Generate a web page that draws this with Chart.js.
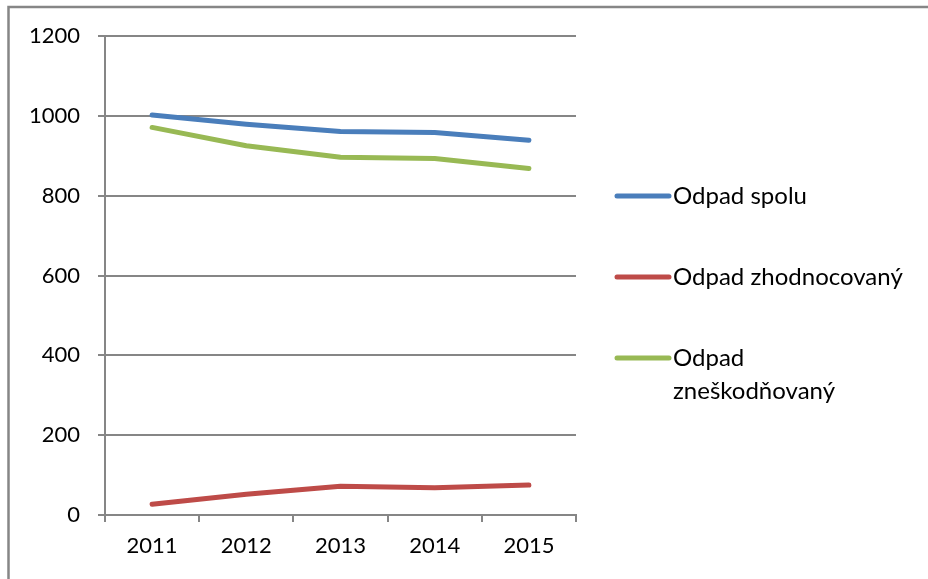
<!DOCTYPE html>
<html>
<head>
<meta charset="utf-8">
<script src="https://cdn.jsdelivr.net/npm/chart.js@4"></script>
<style>
html,body{margin:0;padding:0;background:#fff;}
#wrap{width:928px;height:579px;position:relative;}
</style>
</head>
<body>
<div id="wrap"><canvas id="c" width="928" height="579"></canvas></div>
<script>
const years = ['2011', '2012', '2013', '2014', '2015'];
const spolu = [1002, 979, 961, 958, 939];
const zhodnocovany = [27, 52, 72, 68, 75];
const zneskodnovany = [971, 925, 896, 893, 868];
const seriesNames = ['Odpad spolu', 'Odpad zhodnocovaný', ['Odpad', 'zneškodňovaný']];
const yTicks = [0, 200, 400, 600, 800, 1000, 1200];

const FONT = 'Lato, "Open Sans", sans-serif';
const GRID = '#868686';

const framePlugin = {
  id: 'frame',
  beforeDraw(chart) {
    const ctx = chart.ctx;
    ctx.save();
    ctx.fillStyle = '#fff';
    ctx.fillRect(0, 0, chart.width, chart.height);
    ctx.strokeStyle = GRID;
    ctx.lineWidth = 2.5;
    ctx.beginPath();
    ctx.moveTo(928, 7);
    ctx.lineTo(8.5, 7);
    ctx.lineTo(8.5, 579);
    ctx.stroke();
    ctx.restore();
  }
};

const legendPlugin = {
  id: 'sideLegend',
  afterDraw(chart) {
    const ctx = chart.ctx;
    const ys = [196, 277, 358];
    ctx.save();
    chart.data.datasets.forEach((ds, i) => {
      const y = ys[i];
      ctx.strokeStyle = ds.borderColor;
      ctx.lineWidth = 5;
      ctx.lineCap = 'round';
      ctx.beginPath();
      ctx.moveTo(617, y);
      ctx.lineTo(669, y);
      ctx.stroke();
      ctx.fillStyle = '#000';
      ctx.font = '24px ' + FONT;
      ctx.textBaseline = 'middle';
      ctx.textAlign = 'left';
      const lines = Array.isArray(ds.label) ? ds.label : [ds.label];
      lines.forEach((t, k) => ctx.fillText(t, 673, y + k * 33));
    });
    ctx.restore();
  }
};

new Chart(document.getElementById('c'), {
  type: 'line',
  data: {
    labels: years,
    datasets: [
      { label: seriesNames[0], data: spolu, borderColor: '#4a7ebb' },
      { label: seriesNames[1], data: zhodnocovany, borderColor: '#be4b48' },
      { label: seriesNames[2], data: zneskodnovany, borderColor: '#98b954' }
    ].map(d => Object.assign(d, {
      borderWidth: 5, pointRadius: 0, tension: 0, fill: false,
      borderCapStyle: 'round', borderJoinStyle: 'round'
    }))
  },
  options: {
    responsive: false,
    animation: false,
    layout: { padding: { left: 0, right: 352, top: 36, bottom: 0 } },
    plugins: { legend: { display: false }, tooltip: { enabled: false } },
    scales: {
      x: {
        offset: true,
        grid: { offset: true, drawOnChartArea: false, drawTicks: true, tickLength: 7, color: GRID, lineWidth: 2 },
        border: { color: GRID, width: 2 },
        ticks: { color: '#000', font: { family: FONT, size: 22 }, padding: 11, maxRotation: 0 },
        afterFit(s) { s.height = 64; }
      },
      y: {
        min: 0, max: 1200,
        afterBuildTicks(s) { s.ticks = yTicks.map(v => ({ value: v })); },
        grid: { color: GRID, lineWidth: 2, tickLength: 7 },
        border: { color: GRID, width: 2 },
        ticks: { color: '#000', font: { family: FONT, size: 22 }, padding: 18, callback: v => String(v) },
        afterFit(s) { s.width = 105; }
      }
    }
  },
  plugins: [framePlugin, legendPlugin]
});
</script>
</body>
</html>
